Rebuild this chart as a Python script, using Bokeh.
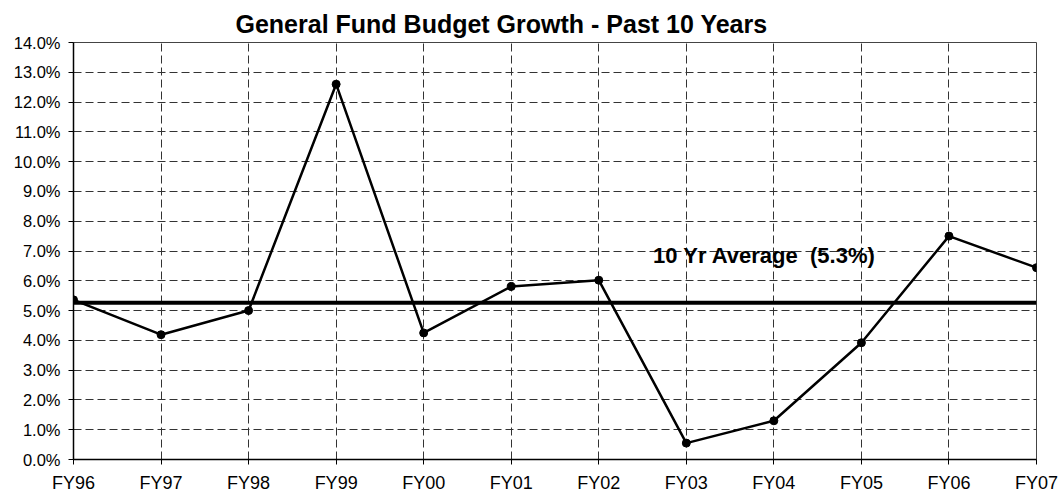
from bokeh.plotting import figure
from bokeh.models import FixedTicker, NumeralTickFormatter, Span, Label, ColumnDataSource, Range1d
from bokeh.embed import file_html
from bokeh.resources import INLINE

categories = ["FY96", "FY97", "FY98", "FY99", "FY00", "FY01", "FY02", "FY03", "FY04", "FY05", "FY06", "FY07"]
growth = [0.0536, 0.0419, 0.0500, 0.1260, 0.0425, 0.0581, 0.0602, 0.0055, 0.0130, 0.0392, 0.0750, 0.0644]
average = 0.0526
average_label = "10 Yr Average\u00a0 (5.3%)"
title = "General Fund Budget Growth - Past 10 Years"
y_ticks = [i / 100 for i in range(0, 15)]

xs = list(range(len(categories)))
src = ColumnDataSource(dict(x=xs, y=growth))

p = figure(width=1062, height=497, output_backend="svg", toolbar_location=None,
           x_range=Range1d(0, len(categories) - 1), y_range=Range1d(0, 0.14),
           min_border_left=73, min_border_right=26, min_border_top=42, min_border_bottom=38)
p.title.text = title
p.title.align = "left"
p.title.offset = 162
p.title.standoff = 10
p.title.text_font = "Liberation Sans"
p.title.text_font_size = "25px"
p.title.text_font_style = "bold"
p.title.text_color = "black"

p.background_fill_color = "white"
p.border_fill_color = "white"
p.outline_line_color = "#444444"
p.outline_line_width = 1

for ax in (p.xaxis[0], p.yaxis[0]):
    ax.axis_line_color = "black"
    ax.axis_line_width = 1.5
    ax.major_tick_line_color = "black"
    ax.major_tick_out = 5
    ax.major_tick_in = 0
    ax.minor_tick_line_color = None
    ax.major_label_text_font = "Liberation Sans"
    ax.major_label_text_color = "black"

p.xaxis.ticker = FixedTicker(ticks=xs)
p.xaxis.major_label_overrides = {i: c for i, c in enumerate(categories)}
p.xaxis.major_label_text_font_size = "18px"
p.xaxis.major_label_standoff = 8

p.yaxis.ticker = FixedTicker(ticks=y_ticks)
p.yaxis.formatter = NumeralTickFormatter(format="0.0%")
p.yaxis.major_label_text_font_size = "16.5px"
p.yaxis.major_label_standoff = 8

for g in (p.xgrid[0], p.ygrid[0]):
    g.grid_line_color = "#333333"
    g.grid_line_width = 1
    g.grid_line_dash = "8 4"
p.xgrid.ticker = FixedTicker(ticks=xs)
p.ygrid.ticker = FixedTicker(ticks=y_ticks)

p.add_layout(Span(location=average, dimension="width", line_color="black", line_width=4))

p.line("x", "y", source=src, line_color="black", line_width=2.5)
p.scatter("x", "y", source=src, size=8, fill_color="black", line_color="black")

p.add_layout(Label(x=6.62, y=0.0686, text=average_label, text_font="Liberation Sans",
                   text_font_size="22px", text_font_style="bold", text_color="black",
                   text_baseline="middle", text_align="left"))

open("out.html", "w").write(file_html(p, INLINE))
